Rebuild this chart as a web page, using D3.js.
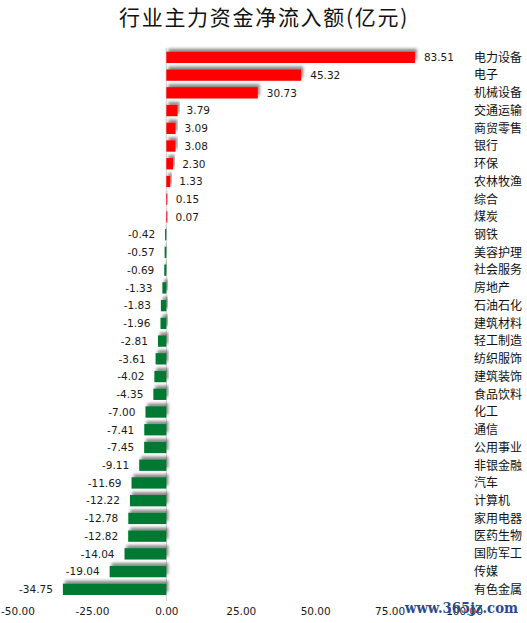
<!DOCTYPE html>
<html><head><meta charset="utf-8">
<script src="https://cdn.jsdelivr.net/npm/d3@7"></script>
<style>body{margin:0;background:#fff}</style>
</head><body>
<script>
const categories = ["电力设备","电子","机械设备","交通运输","商贸零售","银行","环保","农林牧渔","综合","煤炭","钢铁","美容护理","社会服务","房地产","石油石化","建筑材料","轻工制造","纺织服饰","建筑装饰","食品饮料","化工","通信","公用事业","非银金融","汽车","计算机","家用电器","医药生物","国防军工","传媒","有色金属"];
const values = [83.51,45.32,30.73,3.79,3.09,3.08,2.30,1.33,0.15,0.07,-0.42,-0.57,-0.69,-1.33,-1.83,-1.96,-2.81,-3.61,-4.02,-4.35,-7.00,-7.41,-7.45,-9.11,-11.69,-12.22,-12.78,-12.82,-14.04,-19.04,-34.75];
const ticks = [-50,-25,0,25,50,75,100];
const title = "行业主力资金净流入额(亿元)";

const W = 527, H = 623;
const fmt = v => d3.format(".2f")(v).replace("\u2212","-");
const svg = d3.select("body").append("svg").attr("width", W).attr("height", H);
const defs = svg.append("defs");
const f = defs.append("filter").attr("id","sh").attr("x","-20%").attr("y","-60%").attr("width","140%").attr("height","220%");
f.append("feDropShadow").attr("dx",2).attr("dy",-3).attr("stdDeviation",1.6).attr("flood-color","#000").attr("flood-opacity",0.45);

const x = d3.scaleLinear().domain([-50,100]).range([17.5,464]);
const y = d3.scaleBand().domain(categories).range([48.5,598.2]).paddingInner(0.36).paddingOuter(0.18);

svg.append("text").attr("x",264).attr("y",25).attr("text-anchor","middle")
  .attr("font-family","'Noto Sans CJK SC'").attr("font-size",21).attr("letter-spacing",1.7).attr("fill","#111").text(title);

svg.append("line").attr("x1",x(0)).attr("x2",x(0)).attr("y1",48).attr("y2",601).attr("stroke","#d0d0d0").attr("stroke-width",1);

const data = categories.map((c,i)=>({c, v: values[i]}));
svg.append("g").selectAll("rect").data(data).join("rect")
  .attr("x", d => Math.min(x(0), x(d.v)))
  .attr("y", d => y(d.c))
  .attr("width", d => Math.max(1, Math.abs(x(d.v)-x(0))))
  .attr("height", y.bandwidth())
  .attr("fill", d => d.v >= 0 ? "#ff0000" : "#007a33")
  .attr("filter","url(#sh)");

svg.append("g").selectAll("text").data(data).join("text")
  .attr("x", d => d.v >= 0 ? x(d.v) + 9 : x(d.v) - 10)
  .attr("y", d => y(d.c) + y.bandwidth()/2)
  .attr("dy","0.36em")
  .attr("text-anchor", d => d.v >= 0 ? "start" : "end")
  .attr("font-family","'DejaVu Sans'").attr("font-size",10.5).attr("fill","#1a1a1a")
  .text(d => fmt(d.v));

svg.append("g").selectAll("text").data(categories).join("text")
  .attr("x", 474).attr("y", d => y(d) + y.bandwidth()/2).attr("dy","0.36em")
  .attr("font-family","'Noto Sans CJK SC'").attr("font-size",12).attr("fill","#111")
  .text(d => d);

const ax = d3.axisBottom(x).tickValues(ticks).tickFormat(fmt).tickSize(0).tickPadding(0);
const g = svg.append("g").attr("transform","translate(0,608)").call(ax);
g.select(".domain").remove();
g.selectAll("text").attr("font-family","'DejaVu Sans'").attr("font-size",10.5).attr("fill","#1a1a1a");

svg.append("text").attr("x",405).attr("y",613)
  .attr("textLength",113).attr("lengthAdjust","spacingAndGlyphs")
  .attr("font-family","'DejaVu Serif'").attr("font-weight","bold").attr("font-size",15).attr("fill","#2b4a8a")
  .text("www.365jz.com");
</script>
</body></html>
